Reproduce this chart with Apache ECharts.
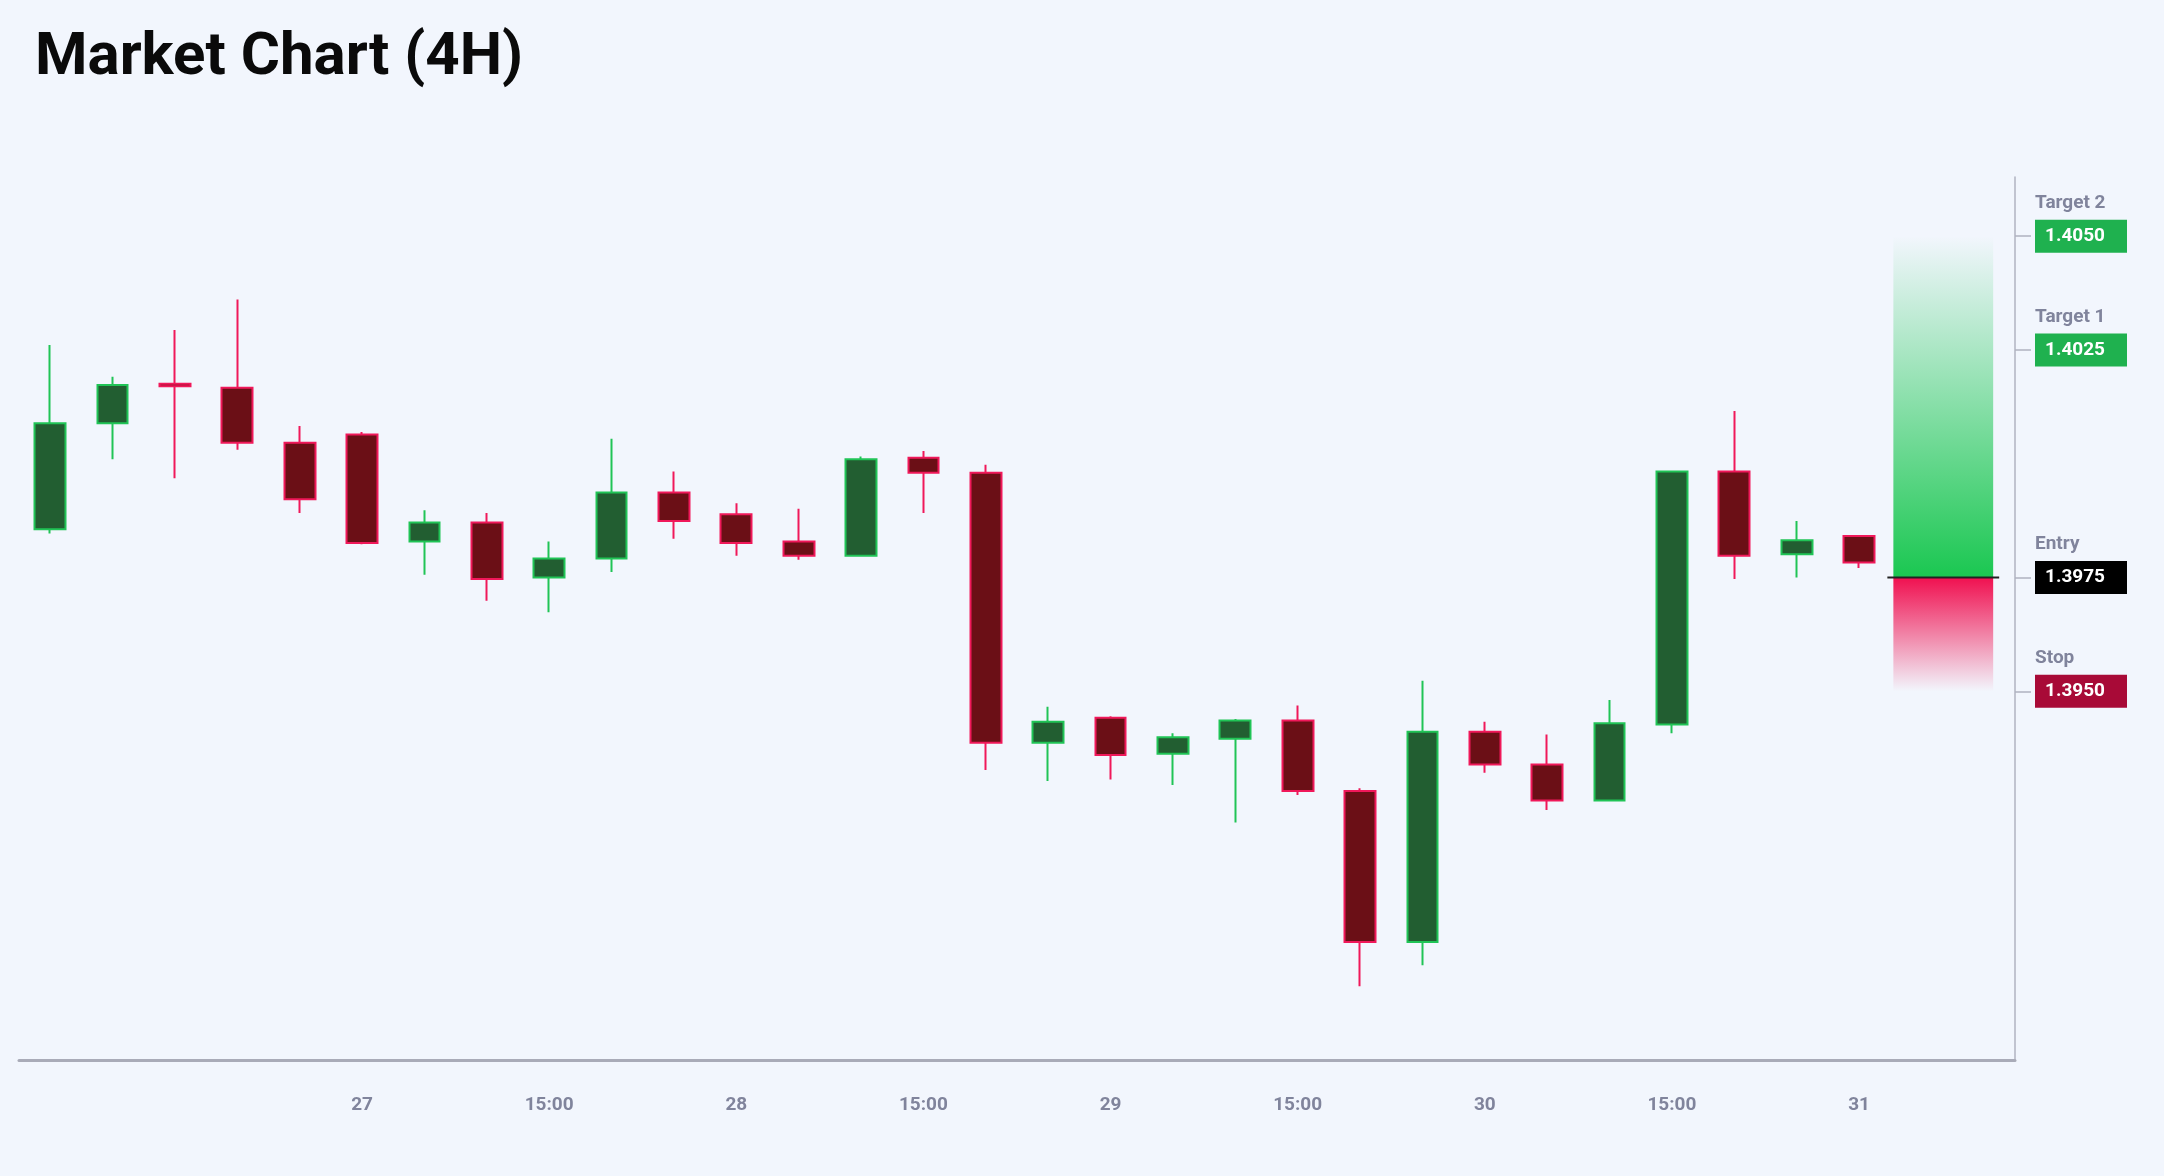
<!DOCTYPE html>
<html>
<head>
<meta charset="utf-8">
<script src="https://cdn.jsdelivr.net/npm/echarts@6/dist/echarts.min.js"></script>
<style>
html,body{margin:0;padding:0;background:#f2f6fd;}
#chart{width:2164px;height:1176px;}
</style>
</head>
<body>
<div id="chart"></div>
<script>
// 4H candles: [open, close, low, high]
var candles = [
    [1.39856,1.40089,1.39847,1.40261],
    [1.40089,1.40173,1.40010,1.40191],
    [1.40176,1.40170,1.39968,1.40294],
    [1.40167,1.40046,1.40031,1.40361],
    [1.40046,1.39922,1.39892,1.40083],
    [1.40064,1.39826,1.39823,1.40070],
    [1.39829,1.39871,1.39756,1.39898],
    [1.39871,1.39747,1.39699,1.39892],
    [1.39750,1.39792,1.39674,1.39829],
    [1.39792,1.39937,1.39762,1.40055],
    [1.39937,1.39874,1.39835,1.39983],
    [1.39889,1.39826,1.39798,1.39913],
    [1.39829,1.39798,1.39789,1.39901],
    [1.39798,1.40010,1.39798,1.40016],
    [1.40013,1.39980,1.39892,1.40028],
    [1.39980,1.39387,1.39327,1.39998],
    [1.39387,1.39433,1.39303,1.39466],
    [1.39442,1.39360,1.39306,1.39445],
    [1.39363,1.39399,1.39294,1.39408],
    [1.39396,1.39436,1.39212,1.39439],
    [1.39436,1.39281,1.39272,1.39469],
    [1.39281,1.38949,1.38852,1.39287],
    [1.38949,1.39411,1.38898,1.39523],
    [1.39411,1.39339,1.39321,1.39433],
    [1.39339,1.39260,1.39239,1.39405],
    [1.39260,1.39430,1.39260,1.39481],
    [1.39427,1.39983,1.39408,1.39983],
    [1.39983,1.39798,1.39747,1.40116],
    [1.39801,1.39832,1.39750,1.39874],
    [1.39841,1.39783,1.39771,1.39841]
];
var xLabels = ['','','','','','27','','','15:00','','','28','','','15:00','','','29','','','15:00','','','30','','','15:00','','','31','',''];
var levelNames = ['Stop','Entry','Target 1','Target 2'];
var levelValues = [1.3950, 1.3975, 1.4025, 1.4050];
var levelStyles = ['s','e','g','g'];
var zoneIndex = 30;

var chart = echarts.init(document.getElementById('chart'));

var levelText = {};
levelValues.forEach(function (v, i) { levelText[v.toFixed(4)] = i; });

var boxBase = {color:'#fff', fontSize:19, fontWeight:'bold', fontFamily:'Roboto', width:72, height:33, padding:[0,10], lineHeight:33};

chart.setOption({
    backgroundColor: '#f2f6fd',
    animation: false,
    title: {
        text: 'Market Chart (4H)',
        left: 30, top: 24,
        textStyle: {fontFamily:'Roboto', fontSize:60, fontWeight:'bold', color:'#0a0a0a'}
    },
    grid: {left:19, right:149, top:177, bottom:116},
    xAxis: {
        type: 'category',
        data: xLabels,
        boundaryGap: true,
        axisLine: {lineStyle:{color:'#a9abb8', width:3}},
        axisTick: {
            alignWithLabel: true, length: 20,
            interval: function (i, v) { return v !== ''; },
            lineStyle: {color:'#a9abb8', width:1}
        },
        axisLabel: {
            interval: function (i, v) { return v !== ''; },
            margin: 36, color:'#80849c', fontSize:19, fontWeight:'bold', fontFamily:'Roboto'
        },
        splitLine: {show:false}
    },
    yAxis: {
        type: 'value',
        position: 'right',
        min: 1.3869, max: 1.4063,
        scale: true,
        axisLine: {show:true, lineStyle:{color:'#b0b3c0', width:1.5}},
        axisTick: {show:true, length:16, customValues: levelValues, lineStyle:{color:'#b0b3c0', width:1.5}},
        splitLine: {show:false},
        axisLabel: {
            customValues: levelValues,
            margin: 20,
            formatter: function (v) {
                var i = levelText[v.toFixed(4)];
                return '{t|' + levelNames[i] + '}\n{' + levelStyles[i] + '|' + levelValues[i].toFixed(4) + '}\n{t|}';
            },
            rich: {
                t: {color:'#80849c', fontSize:19, fontWeight:'bold', fontFamily:'Roboto', height:33, lineHeight:33, verticalAlign:'bottom', padding:[0,0,0,0]},
                g: Object.assign({backgroundColor:'#1fb14f'}, boxBase),
                e: Object.assign({backgroundColor:'#000000'}, boxBase),
                s: Object.assign({backgroundColor:'#a80a37'}, boxBase)
            }
        }
    },
    series: [
        {
            type: 'candlestick',
            data: candles,
            barWidth: '50%',
            itemStyle: {
                color: '#225e31', color0: '#6b0f16',
                borderColor: '#20c456', borderColor0: '#f0185a',
                borderWidth: 2
            }
        },
        {
            type: 'custom',
            data: [[zoneIndex, levelValues[1], levelValues[3], levelValues[0]]],
            z: 1,
            renderItem: function (params, api) {
                var band = api.size([1, 0])[0];
                var x0 = api.coord([api.value(0), api.value(1)])[0] - band * 0.45;
                var w = band * 1.6;
                var ye = api.coord([api.value(0), api.value(1)])[1];
                var yt = api.coord([api.value(0), api.value(2)])[1];
                var ys = api.coord([api.value(0), api.value(3)])[1];
                return {
                    type: 'group',
                    children: [
                        {type:'rect', shape:{x:x0, y:yt, width:w, height:ye-yt},
                         style:{fill:new echarts.graphic.LinearGradient(0,0,0,1,[
                            {offset:0,color:'rgba(26,199,81,0)'},{offset:1,color:'rgba(26,199,81,1)'}])}},
                        {type:'rect', shape:{x:x0, y:ye, width:w, height:ys-ye},
                         style:{fill:new echarts.graphic.LinearGradient(0,0,0,1,[
                            {offset:0,color:'rgba(240,16,80,1)'},{offset:1,color:'rgba(240,16,80,0)'}])}},
                        {type:'line', shape:{x1:x0-6, y1:ye, x2:x0+w+6, y2:ye},
                         style:{stroke:'#222', lineWidth:2}}
                    ]
                };
            }
        }
    ]
});
</script>
</body>
</html>
